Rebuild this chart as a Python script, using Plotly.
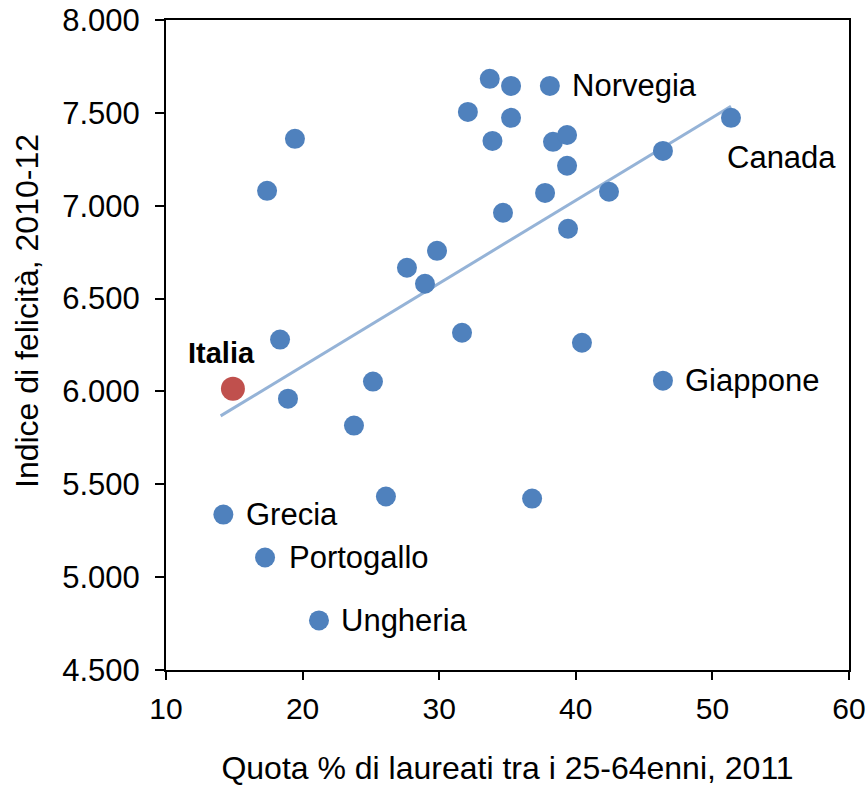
import numpy as np
import plotly.graph_objects as go

# Share of graduates (25-64), 2011 and happiness index 2010-12
laureati = [14.2, 17.25, 21.2, 17.4, 19.44, 18.35, 18.93, 23.76, 25.15, 26.1,
            27.64, 28.96, 29.84, 31.67, 32.1, 33.7, 33.9, 35.26, 35.26, 34.67,
            36.8, 37.75, 38.1, 38.33, 39.36, 39.36, 39.43, 40.45, 42.43, 46.38,
            46.38, 51.36]
felicita = [5.337, 5.106, 4.767, 7.08, 7.36, 6.279, 5.961, 5.816, 6.053, 5.434,
            6.666, 6.58, 6.757, 6.316, 7.505, 7.683, 7.349, 7.645, 7.473, 6.962,
            5.423, 7.069, 7.645, 7.344, 7.381, 7.215, 6.876, 6.262, 7.075, 7.295,
            6.058, 7.473]
paesi = ["Grecia", "Portogallo", "Ungheria", "", "", "", "", "", "", "",
         "", "", "", "", "", "", "", "", "", "",
         "", "", "Norvegia", "", "", "", "", "", "", "",
         "Giappone", "Canada"]

italia_x = [14.9]
italia_y = [6.015]
italia_nome = "Italia"

x_ticks = [10, 20, 30, 40, 50, 60]
y_ticks = [4.5, 5.0, 5.5, 6.0, 6.5, 7.0, 7.5, 8.0]
y_tick_labels = ["4.500", "5.000", "5.500", "6.000", "6.500", "7.000", "7.500", "8.000"]

x_title = "Quota % di laureati tra i 25-64enni, 2011"
y_title = "Indice di felicità, 2010-12"

BLUE = "#4F81BD"
RED = "#C0504D"
TREND = "#95B3D7"
FONT = "Liberation Sans, Arial, sans-serif"

all_x = np.array(laureati + italia_x)
all_y = np.array(felicita + italia_y)
slope, intercept = np.polyfit(all_x, all_y, 1)
tx = np.array([all_x.min() - 0.2, all_x.max()])
ty = slope * tx + intercept

fig = go.Figure()
fig.add_trace(go.Scatter(x=tx, y=ty, mode="lines",
                         line=dict(color=TREND, width=3), hoverinfo="skip",
                         showlegend=False))
fig.add_trace(go.Scatter(x=laureati, y=felicita, mode="markers",
                         marker=dict(color=BLUE, size=20, line=dict(width=0)),
                         showlegend=False))
fig.add_trace(go.Scatter(x=italia_x, y=italia_y, mode="markers",
                         marker=dict(color=RED, size=24, line=dict(width=0)),
                         showlegend=False))

# label offsets (pixels)
offsets = {
    "Grecia": (21, 0),
    "Portogallo": (22, 0),
    "Ungheria": (20, 0),
    "Norvegia": (20, 0),
    "Giappone": (20, 0),
    "Canada": (-6, -40),
}
for xv, yv, name in zip(laureati, felicita, paesi):
    if not name:
        continue
    dx, dy = offsets[name]
    fig.add_annotation(x=xv, y=yv, text=name, showarrow=False,
                       xanchor="left", yanchor="middle", xshift=dx, yshift=dy,
                       font=dict(family=FONT, size=31, color="black"))
fig.add_annotation(x=italia_x[0], y=italia_y[0], text="<b>" + italia_nome + "</b>",
                   showarrow=False, xanchor="center", yanchor="middle",
                   xshift=-11, yshift=36,
                   font=dict(family=FONT, size=29, color="black"))

# y-axis title placed as rotated annotation (centred a bit above the plot middle)
fig.add_annotation(xref="paper", yref="paper", x=0, y=0.5, text=y_title,
                   showarrow=False, textangle=-90, xanchor="center",
                   yanchor="middle", xshift=-139, yshift=34,
                   font=dict(family=FONT, size=32, color="black"))

fig.update_layout(
    width=867, height=786,
    margin=dict(l=166, r=18, t=20, b=116),
    paper_bgcolor="white", plot_bgcolor="white",
    font=dict(family=FONT, size=30, color="black"),
)
fig.update_xaxes(range=[10, 60], tickvals=x_ticks, showgrid=False, zeroline=False,
                 showline=True, linecolor="black", linewidth=2, mirror=True,
                 ticks="outside", ticklen=8, tickwidth=1.5, tickcolor="black",
                 ticklabelstandoff=3, automargin=False,
                 tickfont=dict(family=FONT, size=30),
                 title=dict(text=x_title,
                            font=dict(family=FONT, size=32), standoff=36))
fig.update_yaxes(range=[4.5, 8.0], tickvals=y_ticks, ticktext=y_tick_labels,
                 showgrid=False, zeroline=False,
                 showline=True, linecolor="black", linewidth=2, mirror=True,
                 ticks="outside", ticklen=9, tickwidth=1.5, tickcolor="black",
                 ticklabelstandoff=9, automargin=False,
                 tickfont=dict(family=FONT, size=31))

fig.write_html("out.html", config={"displayModeBar": False})

# remove the default page margin so the figure fills the window exactly
with open("out.html", encoding="utf-8") as f:
    html = f.read()
html = html.replace("<body>", '<body style="margin:0;padding:0;overflow:hidden;">', 1)
with open("out.html", "w", encoding="utf-8") as f:
    f.write(html)
